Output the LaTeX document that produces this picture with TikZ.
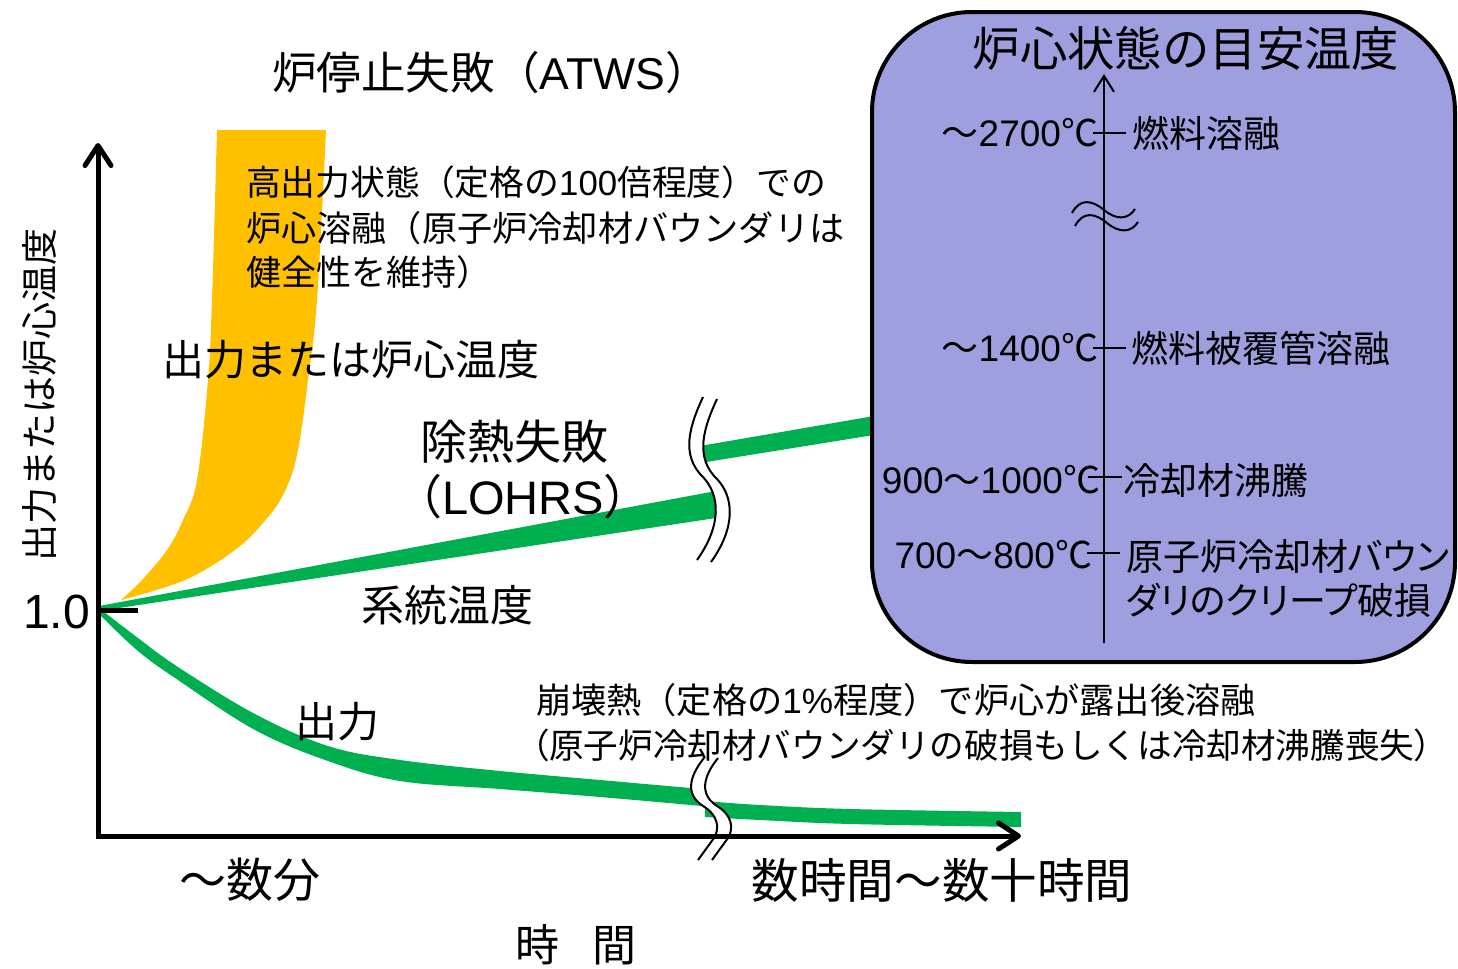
\documentclass[tikz,border=0pt]{standalone}
\usepackage{fontspec}
\setmainfont{Noto Sans CJK JP}
\newfontfamily\lat{Liberation Sans}
\newfontfamily\pj{Noto Sans CJK JP}[RawFeature=+palt]
\usetikzlibrary{arrows.meta}
\definecolor{gold}{RGB}{255,192,0}
\definecolor{grn}{RGB}{0,176,80}
\definecolor{lav}{RGB}{159,158,222}
\newcommand\fsz[1]{\fontsize{#1pt}{#1pt}\selectfont}
\begin{document}
\begin{tikzpicture}[x=0.5pt,y=-0.5pt,
  t/.style={inner sep=0pt,outer sep=0pt},
  axisline/.style={line width=2.5pt,line join=miter,
     {Straight Barb[length=10pt,width=13pt,round]}-{Straight Barb[length=10pt,width=13pt,round]}},
  brk/.style={line width=1pt},
  tickln/.style={line width=1.3pt},
  band/.style={fill=grn}]
\useasboundingbox (0,0) rectangle (1458,969);

% orange band
\fill[gold] (217,130) -- (326,130)
  -- plot[smooth,tension=0.6] coordinates {(326,130) (317,300) (308,380) (297,455) (283,495) (263,523) (235,550) (185,580) (121,600)}
  -- plot[smooth,tension=0.6] coordinates {(121,600) (142,580) (167,550) (183,520) (197,480) (208,380) (212,300) (217,130)} -- cycle;

% green: system temperature
\fill[band] (99,606) -- (716,491) -- (716,518) -- (99,611) -- cycle;
\fill[band] (700,446) -- (880,415) -- (880,434) -- (700,463) -- cycle;

% green: power
\fill[band] plot[smooth,tension=0.6] coordinates {(99,608) (138,638) (178,667) (255,714) (328,746) (400,760) (500,771) (600,780) (702,789)}
  -- plot[smooth,tension=0.6] coordinates {(702,806) (600,797) (500,789) (400,781) (328,761) (255,730) (178,680) (138,651) (99,614)} -- cycle;
\fill[band] plot[smooth,tension=0.6] coordinates {(705,801) (760,805) (850,809) (1021,812)}
  -- plot[smooth,tension=0.6] coordinates {(1021,827) (850,824) (760,820) (705,817)} -- cycle;

% break fills
\fill[white] (703,397) .. controls (690,425) and (680,455) .. (703,477) .. controls (720,495) and (722,525) .. (697,560)
  -- (711,562) .. controls (736,527) and (734,497) .. (717,479) .. controls (694,457) and (704,427) .. (717,399) -- cycle;
\fill[white] (704,758) .. controls (688,778) and (686,795) .. (703,806) .. controls (718,815) and (720,828) .. (714,838)
  -- (728,838) .. controls (734,828) and (732,815) .. (717,806) .. controls (700,795) and (702,778) .. (718,758) -- cycle;

% axes
\coordinate (Ytip) at (98,143);
\coordinate (O) at (98,836);
\coordinate (Xtip) at (1021,836);
\draw[axisline] (Ytip) -- (O) -- (Xtip);
\coordinate (T0) at (98,610);
\coordinate (T1) at (138,610);
\draw[line width=2.5pt] (T0) -- (T1);

% break lines
\draw[brk] (703,397) .. controls (690,425) and (680,455) .. (703,477) .. controls (720,495) and (722,525) .. (697,560);
\draw[brk] (717,399) .. controls (704,427) and (694,457) .. (717,479) .. controls (734,497) and (736,527) .. (711,562);
\draw[brk] (704,758) .. controls (688,778) and (686,795) .. (703,806) .. controls (718,815) and (720,828) .. (714,838) -- (698,860);
\draw[brk] (718,758) .. controls (702,778) and (700,795) .. (717,806) .. controls (732,815) and (734,828) .. (728,838) -- (712,860);

% box
\draw[line width=2pt,fill=lav,rounded corners=50pt] (872,12) rectangle (1455,662);
\coordinate (Ab) at (1104,643);
\coordinate (At) at (1104,74);
\draw[line width=1pt,-{Straight Barb[length=8pt,width=10pt]}] (Ab) -- (At);
\draw[tickln] (1093,133) -- (1126,133);
\draw[tickln] (1093,348) -- (1126,348);
\draw[tickln] (1088,477) -- (1122,477);
\draw[tickln] (1087,553) -- (1120,553);
\draw[brk] (1072,213) .. controls (1080,198) and (1092,200) .. (1104,210) .. controls (1116,220) and (1128,220) .. (1135,209);
\draw[brk] (1075,226) .. controls (1083,211) and (1095,213) .. (1107,223) .. controls (1119,233) and (1131,233) .. (1138,222);

% texts
\node[t,anchor=west] (title) at (272,73) {\fsz{22.3}炉停止失敗（{\lat ATWS}）};
\node[t,anchor=west] (b1) at (246,182) {\fsz{17.4}高出力状態（定格の{\lat 100}倍程度）での};
\node[t,anchor=west] (b2) at (246,228) {\fsz{17.6}炉心溶融（原子炉冷却材バウンダリは};
\node[t,anchor=west] (b3) at (246,272) {\fsz{17.5}健全性を維持）};
\node[t,anchor=west] (mid) at (162,360) {\fsz{21}出力または炉心温度};
\node[t,rotate=90] (ylab) at (40,395) {\fsz{18.5}出力または炉心温度};
\node[t,anchor=east] (one) at (90,612) {\fsz{24}\lat 1.0};
\node[t] (lohr1) at (514,442) {\fsz{23.5}除熱失敗};
\node[t] (lohr2) at (523,497) {\fsz{23.5}（{\lat LOHRS}）};
\node[t] (sys) at (447,605) {\fsz{21.5}系統温度};
\node[t] (pow) at (337,722) {\fsz{21}出力};
\node[t,anchor=west] (d1) at (536,700) {\fsz{17.6}崩壊熱（定格の{\lat 1\%}程度）で炉心が露出後溶融};
\node[t,anchor=west] (d2) at (532,745) {\fsz{17.3}{\pj （}原子炉冷却材バウンダリの破損もしくは冷却材沸騰喪失{\pj ）}};
\node[t] (xl1) at (250,880) {\fsz{23.5}～数分};
\node[t] (xl2) at (942,880) {\fsz{23.8}数時間～数十時間};
\node[t] (xlab) at (576,945) {\fsz{22}時\hspace{17pt}間};

\node[t] (btitle) at (1186,48) {\fsz{23.7}炉心状態の目安温度};
\node[t,anchor=east] (k1) at (1098,133) {\fsz{18.5}～{\lat 2700}℃};
\node[t,anchor=west] (v1) at (1132,133) {\fsz{18.5}燃料溶融};
\node[t,anchor=east] (k2) at (1098,348) {\fsz{18.5}～{\lat 1400}℃};
\node[t,anchor=west] (v2) at (1131,348) {\fsz{18.5}燃料被覆管溶融};
\node[t,anchor=east] (k3) at (1100,480) {\fsz{18.5}{\lat 900}～{\lat 1000}℃};
\node[t,anchor=west] (v3) at (1123,480) {\fsz{18.5}冷却材沸騰};
\node[t,anchor=east] (k4) at (1092,555) {\fsz{18.5}{\lat 700}～{\lat 800}℃};
\node[t,anchor=west] (v4a) at (1126,556) {\fsz{18.5}\pj 原子炉冷却材バウン};
\node[t,anchor=west] (v4b) at (1126,600) {\fsz{18.5}\pj ダリのクリープ破損};
\end{tikzpicture}
\end{document}
